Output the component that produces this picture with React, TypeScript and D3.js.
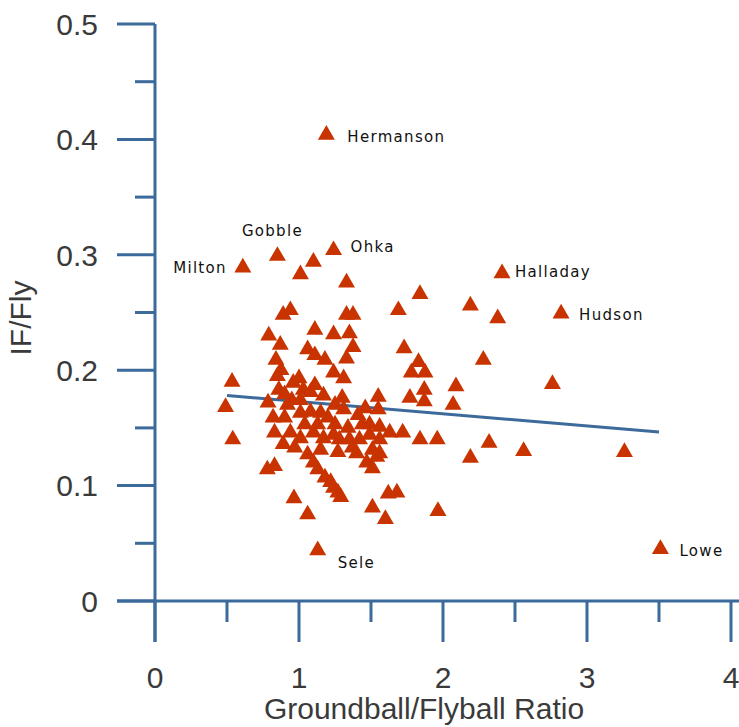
import React from "react";
import * as d3 from "d3";

// ---- Data ----
const xTicks = [0, 1, 2, 3, 4];
const xMinorTicks = [0.5, 1.5, 2.5, 3.5];
const yTicks = [0, 0.1, 0.2, 0.3, 0.4, 0.5];
const yMinorTicks = [0.05, 0.15, 0.25, 0.35, 0.45];

const labeledNames = ["Hermanson", "Gobble", "Milton", "Ohka", "Halladay", "Hudson", "Sele", "Lowe"];
const labeledX = [1.19, 0.85, 0.61, 1.24, 2.41, 2.82, 1.13, 3.51];
const labeledY = [0.404, 0.299, 0.289, 0.304, 0.284, 0.249, 0.044, 0.045];

const pitcherX = [
  1.10, 1.01, 1.33, 1.84, 1.69, 2.19, 2.38, 0.89, 0.94, 1.33, 1.375, 0.79, 1.11, 1.24, 1.35,
  0.87, 1.06, 1.11, 1.18, 1.375, 1.33, 1.73, 1.78, 1.875, 1.83, 2.28, 0.84, 0.875, 1.24, 1.0,
  0.85, 0.96, 0.535, 1.31, 0.86, 1.03, 1.08, 1.17, 1.55, 1.77, 1.87, 1.87, 2.09, 2.07, 2.76,
  1.30, 0.49, 0.785, 1.55, 0.82, 0.90, 1.01, 1.08, 1.15, 1.20, 1.31, 1.41, 1.46, 1.49, 1.56,
  1.63, 1.72, 1.84, 1.96, 0.54, 0.83, 0.94, 0.89, 1.01, 1.10, 1.17, 1.24, 1.28, 1.35, 1.42,
  1.49, 1.56, 1.37, 1.40, 1.51, 1.56, 1.06, 1.47, 1.54, 1.51, 0.78, 0.83, 1.10, 1.13, 1.18,
  1.22, 1.24, 1.27, 1.29, 0.965, 1.06, 1.62, 1.68, 1.51, 1.60, 1.965, 2.19, 2.32, 2.56, 3.26,
  0.95, 1.25, 0.92, 1.04, 1.13, 1.25, 1.34, 0.97, 1.15, 1.27, 1.44, 0.90, 1.01, 1.11,
];
const pitcherY = [
  0.294, 0.283, 0.276, 0.266, 0.252, 0.256, 0.245, 0.248, 0.252, 0.248, 0.248, 0.230, 0.235, 0.231, 0.232,
  0.222, 0.218, 0.213, 0.209, 0.220, 0.210, 0.219, 0.198, 0.198, 0.207, 0.209, 0.209, 0.200, 0.198, 0.193,
  0.195, 0.189, 0.190, 0.193, 0.183, 0.183, 0.181, 0.178, 0.177, 0.176, 0.183, 0.173, 0.186, 0.170, 0.188,
  0.176, 0.168, 0.172, 0.166, 0.159, 0.159, 0.163, 0.164, 0.163, 0.159, 0.166, 0.161, 0.167, 0.153, 0.151,
  0.146, 0.146, 0.140, 0.140, 0.140, 0.146, 0.146, 0.136, 0.141, 0.146, 0.141, 0.144, 0.140, 0.140, 0.140,
  0.144, 0.140, 0.133, 0.128, 0.131, 0.128, 0.127, 0.120, 0.125, 0.115, 0.114, 0.117, 0.120, 0.114, 0.107,
  0.103, 0.098, 0.094, 0.090, 0.089, 0.075, 0.093, 0.094, 0.081, 0.071, 0.078, 0.124, 0.137, 0.130, 0.129,
  0.174, 0.170, 0.170, 0.153, 0.153, 0.153, 0.150, 0.133, 0.131, 0.129, 0.153, 0.179, 0.174, 0.187,
];

const trendX = [0.5, 3.5];
const trendY = [0.178, 0.1465];

// ---- Styles ----
const AXIS = "#3b6a9b";
const MARK = "#c93300";
const TEXT = "#3a3a3a";
const labelPlacement: Record<string, { dx: number; dy: number; anchor: string }> = {
  Hermanson: { dx: 21, dy: 7, anchor: "start" },
  Gobble: { dx: -5, dy: -20, anchor: "middle" },
  Milton: { dx: -16, dy: 6, anchor: "end" },
  Ohka: { dx: 17, dy: 2, anchor: "start" },
  Halladay: { dx: 13, dy: 4, anchor: "start" },
  Hudson: { dx: 18, dy: 6, anchor: "start" },
  Sele: { dx: 20, dy: 18, anchor: "start" },
  Lowe: { dx: 19, dy: 7, anchor: "start" },
};

export default function App() {
  const W = 739;
  const H = 727;
  const x = d3.scaleLinear().domain([0, 4]).range([155, 731]);
  const y = d3.scaleLinear().domain([0, 0.5]).range([601, 24]);
  const tri = d3.symbol().type(d3.symbolTriangle).size(125)() as string;
  const line = d3
    .line<number>()
    .x((_, i) => x(trendX[i]))
    .y((d) => y(d));

  const x0 = x(0);
  const y0 = y(0);

  return (
    <svg
      width={W}
      height={H}
      style={{ position: "absolute", left: 0, top: 0, background: "#fff" }}
      fontFamily="Liberation Sans, Arial, sans-serif"
    >
      <rect width={W} height={H} fill="#fff" />
      {/* Axes */}
      <line x1={x0} x2={x0} y1={y(0.5)} y2={y0 + 41} stroke={AXIS} strokeWidth={3} />
      <line x1={x0 - 38} x2={W} y1={y0} y2={y0} stroke={AXIS} strokeWidth={3} />
      {yTicks.map((t) => (
        <line key={"ym" + t} x1={x0 - 38} x2={x0} y1={y(t)} y2={y(t)} stroke={AXIS} strokeWidth={3} />
      ))}
      {yMinorTicks.map((t) => (
        <line key={"yn" + t} x1={x0 - 20} x2={x0} y1={y(t)} y2={y(t)} stroke={AXIS} strokeWidth={3} />
      ))}
      {xTicks.map((t) => (
        <line key={"xm" + t} x1={x(t)} x2={x(t)} y1={y0} y2={y0 + 41} stroke={AXIS} strokeWidth={3} />
      ))}
      {xMinorTicks.map((t) => (
        <line key={"xn" + t} x1={x(t)} x2={x(t)} y1={y0} y2={y0 + 21} stroke={AXIS} strokeWidth={3} />
      ))}
      {/* Tick labels */}
      {yTicks.map((t) => (
        <text key={"yl" + t} x={98} y={y(t)} dy="0.36em" textAnchor="end" fontSize={30} fill={TEXT}>
          {t === 0 ? "0" : d3.format(".1f")(t)}
        </text>
      ))}
      {xTicks.map((t) => (
        <text key={"xl" + t} x={x(t)} y={688} textAnchor="middle" fontSize={30} fill={TEXT}>
          {t}
        </text>
      ))}
      <text x={424} y={719} textAnchor="middle" fontSize={30} fill={TEXT}>
        Groundball/Flyball Ratio
      </text>
      <text transform="translate(31,318) rotate(-90)" textAnchor="middle" fontSize={30} fill={TEXT}>
        IF/Fly
      </text>
      {/* Trend line */}
      <path d={line(trendY) as string} fill="none" stroke={AXIS} strokeWidth={3} />
      {/* Points */}
      {pitcherX.map((px, i) => (
        <path key={"p" + i} d={tri} transform={`translate(${x(px)},${y(pitcherY[i])})`} fill={MARK} />
      ))}
      {labeledNames.map((n, i) => (
        <path key={"lp" + n} d={tri} transform={`translate(${x(labeledX[i])},${y(labeledY[i])})`} fill={MARK} />
      ))}
      {labeledNames.map((n, i) => {
        const p = labelPlacement[n];
        return (
          <text
            key={"lt" + n}
            x={x(labeledX[i]) + p.dx}
            y={y(labeledY[i]) + p.dy}
            textAnchor={p.anchor}
            fontFamily="DejaVu Sans, sans-serif"
            fontSize={15}
            letterSpacing={1.3}
            fill="#111"
          >
            {n}
          </text>
        );
      })}
    </svg>
  );
}
